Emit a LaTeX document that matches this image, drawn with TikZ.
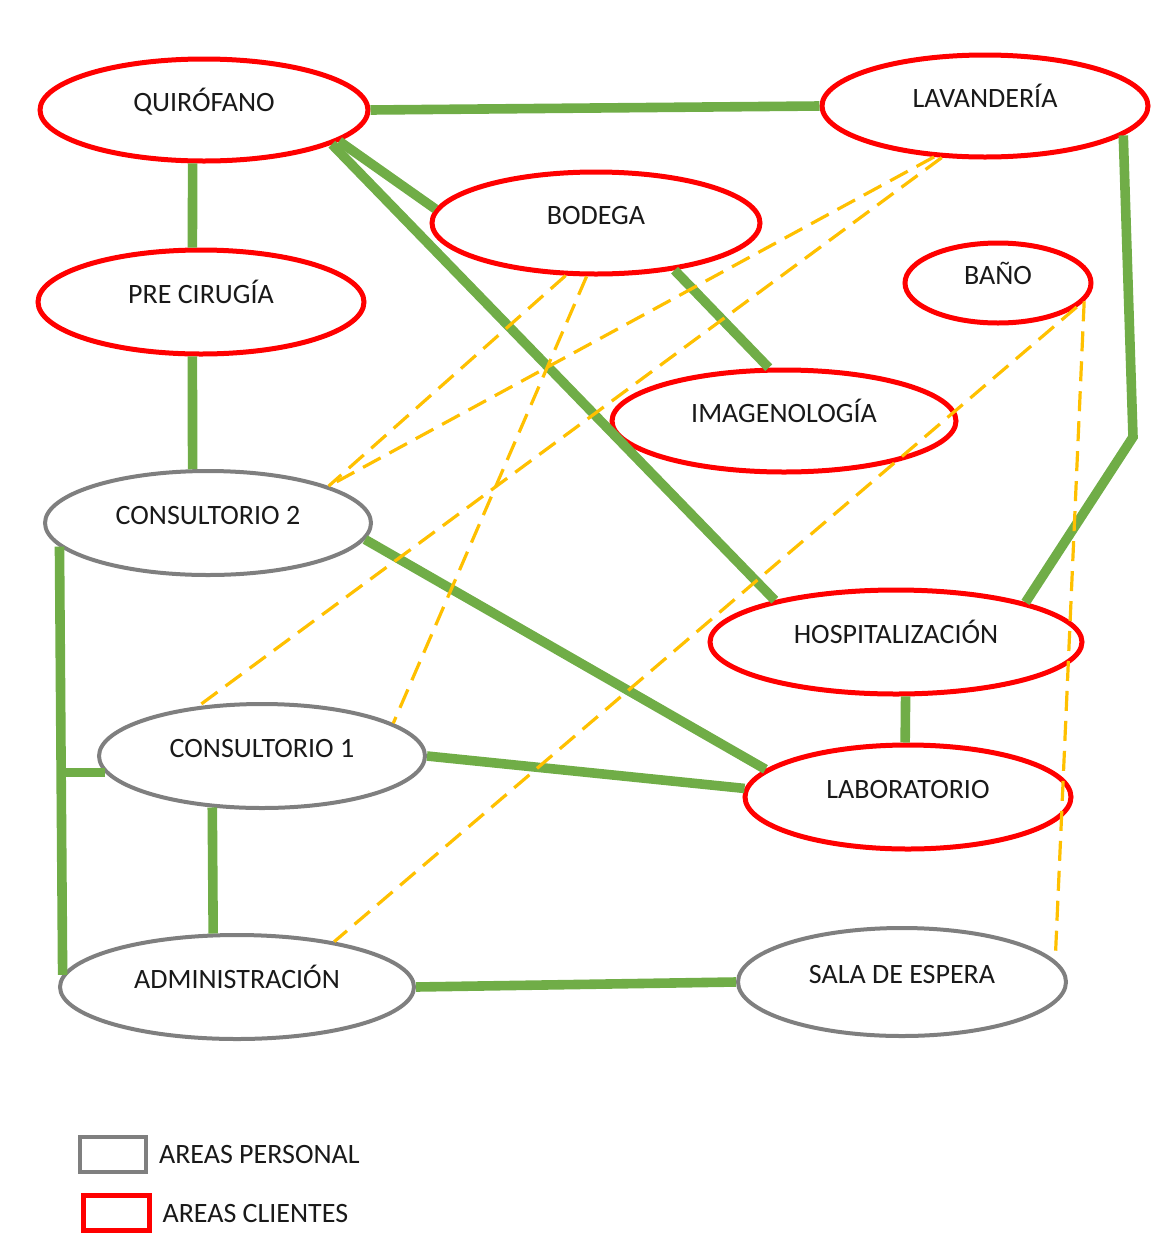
\documentclass[tikz,border=0pt]{standalone}
\usepackage{fontspec}
\setmainfont{Carlito}
\usetikzlibrary{shapes.geometric,positioning}
\definecolor{linkgreen}{HTML}{70AD47}
\definecolor{linkyellow}{HTML}{FFC000}
\definecolor{areagray}{HTML}{7F7F7F}
\begin{document}
\begin{tikzpicture}[x=0.5pt,y=-0.5pt,font=\fontsize{14}{16}\selectfont,text=black!90]
      \tikzstyle{area}=[ellipse,inner sep=0,text height=9.5pt,text depth=8pt]
      \tikzstyle{client area}=[area,draw=red,line width=2.5pt]
      \tikzstyle{staff area}=[area,draw=areagray,line width=2pt]
      \tikzstyle{strong link}=[draw=linkgreen,line width=4.8pt]
      \tikzstyle{weak link}=[draw=linkyellow,line width=1.6pt,dash pattern=on 10pt off 5pt]
      \tikzstyle{legend box}=[rectangle,minimum width=33pt,minimum height=17.5pt]

      \useasboundingbox (0,0) rectangle (1167,1243);

      % areas
      \node(quir)[client area,minimum width=164pt,minimum height=51pt] at (204,110) {QUIRÓFANO};
      \node(lav)[client area,minimum width=163pt,minimum height=51pt] at (985,106) {LAVANDERÍA};
      \node(bod)[client area,minimum width=164pt,minimum height=51pt] at (596,223) {BODEGA};
      \node(pre)[client area,minimum width=163pt,minimum height=52pt] at (201,302) {PRE CIRUGÍA};
      \node(bano)[client area,minimum width=93pt,minimum height=40pt] at (998,283) {BAÑO};
      \node(imag)[client area,minimum width=172pt,minimum height=51pt] at (784,421) {IMAGENOLOGÍA};
      \node(cons2)[staff area,minimum width=163pt,minimum height=52pt] at (208,523) {CONSULTORIO 2};
      \node(hosp)[client area,minimum width=186pt,minimum height=52pt] at (896,642) {HOSPITALIZACIÓN};
      \node(cons1)[staff area,minimum width=163pt,minimum height=52pt] at (262,756) {CONSULTORIO 1};
      \node(lab)[client area,minimum width=163pt,minimum height=52pt] at (908,797) {LABORATORIO};
      \node(admin)[staff area,minimum width=177pt,minimum height=52pt] at (237,987) {ADMINISTRACIÓN};
      \node(sala)[staff area,minimum width=164pt,minimum height=54pt] at (902,982) {SALA DE ESPERA};

      % green links
      \draw[strong link] (quir.east) -- (lav.west);
      \draw[strong link] (quir.-102) -- (pre.99);
      \draw[strong link] (pre.-99) -- (cons2.106);
      \draw[strong link] (quir.-13) -- (bod.175);
      \draw[strong link] (quir.-15) -- (hosp.161);
      \draw[strong link] (bod.-31) -- (imag.106);
      \coordinate (lavbend) at (1133,437);
      \draw[strong link] (lav.-12) -- (lavbend) -- (hosp.17);
      \draw[strong link] (cons2.-6) -- (lab.169);
      \draw[strong link] (cons1.0) -- (lab.177);
      \draw[strong link] (hosp.-80) -- (lab.93);
      \draw[strong link] (cons2.189) -- (admin.176);
      \draw[strong link] (cons1.186) -- (cons2.189 |- cons1.186);
      \draw[strong link] (cons1.-134) -- (admin.114);
      \draw[strong link] (admin.east) -- (sala.west);

      % yellow links
      \draw[weak link] (lav.225) -- (cons2.17);
      \draw[weak link] (lav.230) -- (cons1.142);
      \draw[weak link] (bod.240) -- (cons2.17);
      \draw[weak link] (bod.260) -- (cons1.14);
      \draw[weak link] (bano.-17) -- (admin.25);
      \draw[weak link] (bano.-12) -- (sala.8);

      % legend
      \node(personal)[legend box,draw=areagray,line width=2pt] at (113,1154) {};
      \node(personaltext)[right=2pt of personal] {AREAS PERSONAL};
      \node(clientes)[legend box,draw=red,line width=2.5pt] at (116,1213) {};
      \node(clientestext)[right=2pt of clientes] {AREAS CLIENTES};
    \end{tikzpicture}
\end{document}
